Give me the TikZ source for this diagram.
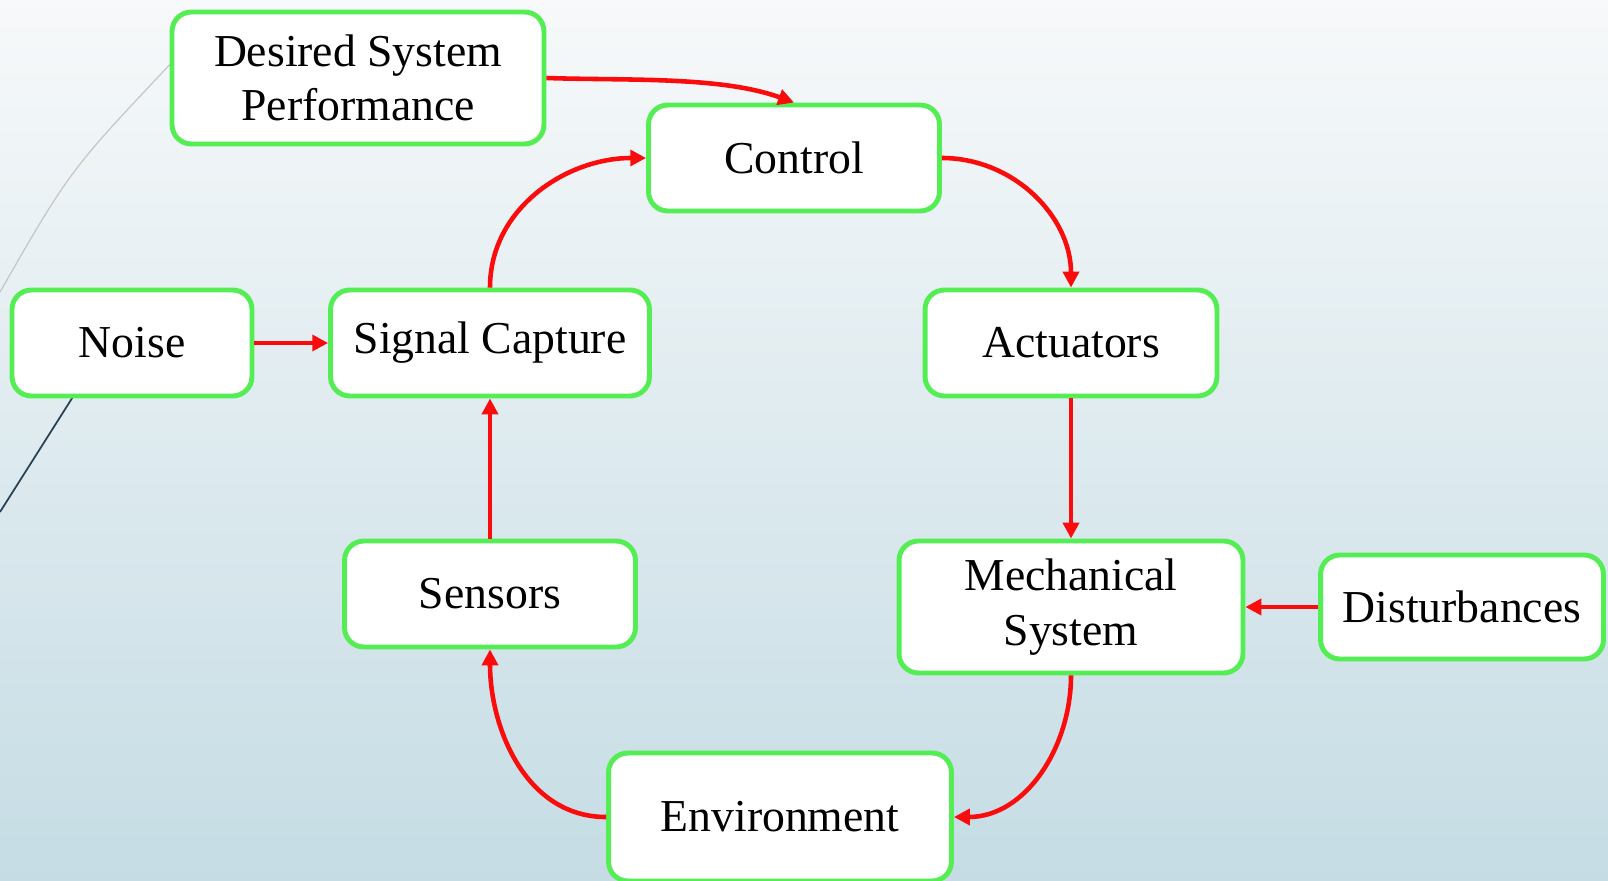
\documentclass[tikz,border=0pt]{standalone}
\usepackage{fontspec}
\setmainfont{Liberation Serif}
\usepackage[svgnames]{xcolor}
\usetikzlibrary{
    calc,
    arrows.meta,
    backgrounds
}
\definecolor{boxgreen}{RGB}{84,238,84}
\definecolor{flowred}{RGB}{250,12,12}
\definecolor{bgtop}{RGB}{247,249,250}
\definecolor{bgbottom}{RGB}{197,220,228}
\definecolor{slate}{RGB}{40,66,84}
\tikzset{
    block/.style={
        draw=boxgreen, line width=2.8pt, fill=white,
        rounded corners=11pt, align=center, inner sep=0pt,
        font=\fontsize{26}{31}\selectfont
    },
    flow/.style={
        draw=flowred, line width=2.6pt,
        -{Triangle[length=9pt,width=9pt]}
    }
}

\begin{document}
\begin{tikzpicture}[x=0.02cm,y=-0.02cm]
    % slide background
    \useasboundingbox (0,0) rectangle (1608,881);
    \shade[top color=bgtop, bottom color=bgbottom] (0,0) rectangle (1608,881);
    \draw[gray!45, line width=0.7pt] (0,292) .. controls (70,170) .. (178,56);
    \draw[slate, line width=1pt] (76,392) -- (0,512);

    % blocks
    \node[block, minimum width=7.44cm, minimum height=2.64cm] (des) at (358,78) {Desired System\\Performance};
    \node[block, minimum width=5.82cm, minimum height=2.12cm] (ctrl) at (794,158) {Control};
    \node[block, minimum width=4.80cm, minimum height=2.12cm] (noise) at (132,343) {Noise};
    \node[block, minimum width=6.38cm, minimum height=2.12cm] (sig) at (490,343) {Signal Capture};
    \node[block, minimum width=5.84cm, minimum height=2.12cm] (act) at (1071,343) {Actuators};
    \node[block, minimum width=5.82cm, minimum height=2.12cm] (sens) at (490,594) {Sensors};
    \node[block, minimum width=6.88cm, minimum height=2.64cm] (mech) at (1071,607) {Mechanical\\System};
    \node[block, minimum width=5.66cm, minimum height=2.08cm] (dist) at (1462,607) {Disturbances};
    \node[block, minimum width=6.86cm, minimum height=2.56cm] (env) at (780,817) {Environment};

    % loop
    \draw[flow] (des.east) to[out=-2, in=160, looseness=0.8] (ctrl.north);
    \draw[flow] (sig.north) to[out=90, in=180] (ctrl.west);
    \draw[flow] (ctrl.east) to[out=0, in=90] (act.north);
    \draw[flow] (act) -- (mech);
    \draw[flow] (dist) -- (mech);
    \draw[flow] (mech.south) to[out=-90, in=0] (env.east);
    \draw[flow] (env.west) to[out=180, in=-90] (sens.south);
    \draw[flow] (sens) -- (sig);
    \draw[flow] (noise) -- (sig);
\end{tikzpicture}
\end{document}
